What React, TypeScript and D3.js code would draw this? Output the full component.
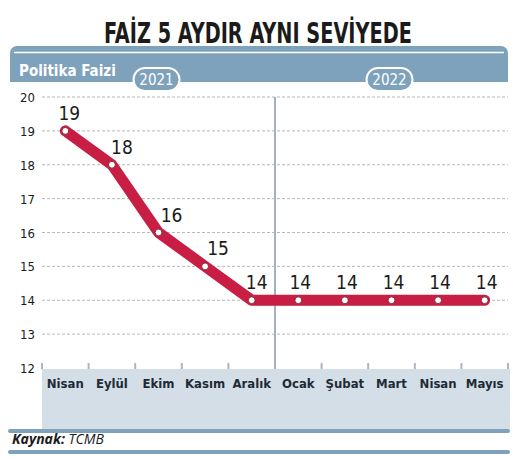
import React from 'react';
import * as d3 from 'd3';

const months = ['Nisan', 'Eylül', 'Ekim', 'Kasım', 'Aralık', 'Ocak', 'Şubat', 'Mart', 'Nisan', 'Mayıs'];
const rates = [19, 18, 16, 15, 14, 14, 14, 14, 14, 14];
const yTicks = [12, 13, 14, 15, 16, 17, 18, 19, 20];
const years = [
  { label: '2021', from: 0, to: 4 },
  { label: '2022', from: 5, to: 9 },
];

const W = 516;
const H = 459;
const cond = "'DejaVu Sans Condensed', 'Liberation Sans Narrow', 'Roboto Condensed', sans-serif";
const band = '#7fa2bc';
const ink = '#1b1b1b';

const App: React.FC = () => {
  const x = d3.scaleBand<string>()
    .domain(months.map((m, i) => `${i}`))
    .range([42, 508]);
  const y = d3.scaleLinear().domain([12, 20]).range([368, 97]);

  const cx = (i: number) => (x(`${i}`) ?? 0) + x.bandwidth() / 2;

  const line = d3.line<number>()
    .x((d, i) => cx(i))
    .y(d => y(d));

  // year separator sits between Aralık and Ocak
  const sepX = x('5') ?? 0;

  // label offsets: first points sit to the right of the marker
  const labelDx = [4, 10, 13, 13, 5, 2, 2, 2, 2, 2];

  return (
    <svg width={W} height={H} style={{ position: 'absolute', left: 0, top: 0, background: '#fff' }}>
      {/* title, squeezed to a condensed look */}
      <g transform="translate(258,43) scale(0.74,1)">
        <text x={0} y={0} textAnchor="middle" fontFamily={cond} fontWeight="bold" fontSize={29} fill={ink}>
          FAİZ 5 AYDIR AYNI SEVİYEDE
        </text>
      </g>

      {/* header band */}
      <rect x={10} y={46} width={498} height={36} rx={7} fill={band} />
      <line x1={14} x2={504} y1={52.5} y2={52.5} stroke="#fff" strokeWidth={1.5} />
      <rect x={10} y={60} width={498} height={22} fill={band} />
      <text x={19} y={76} fontFamily={cond} fontWeight="bold" fontSize={15} fill="#fff">Politika Faizi</text>

      {/* grid */}
      {yTicks.map(t => (
        <g key={t}>
          {t > 12 && (
            <line x1={42} x2={508} y1={y(t)} y2={y(t)} stroke="#9a9a9a" strokeWidth={0.7} strokeDasharray="3,2" />
          )}
          <text x={35} y={y(t) + 5} textAnchor="end" fontFamily={cond} fontSize={13} fill={ink}>{t}</text>
        </g>
      ))}

      {/* bottom category band */}
      <rect x={42} y={369} width={468} height={60} fill="#d3dee7" />
      {d3.range(0, months.length + 1).map(i => {
        const tx = i < months.length ? (x(`${i}`) ?? 0) : 508;
        if (i === 5) return null;
        return <rect key={i} x={tx - 1} y={363} width={2} height={6} fill="#a9b6c6" />;
      })}
      {months.map((m, i) => (
        <text key={i} x={cx(i)} y={388} textAnchor="middle" fontFamily={cond} fontWeight="bold"
          fontSize={13} fill="#1e2a36">{m}</text>
      ))}

      {/* year separator */}
      <line x1={sepX} x2={sepX} y1={97} y2={369} stroke="#a2b0c6" strokeWidth={2} />

      {/* year pills */}
      {years.map(yr => {
        const mid = (cx(yr.from) + cx(yr.to)) / 2;
        return (
          <g key={yr.label}>
            <rect x={mid - 23 - 2} y={68} width={46} height={23} rx={11.5} fill={band} stroke="#fff" strokeWidth={2} />
            <text x={mid - 2} y={85} textAnchor="middle" fontFamily={cond} fontSize={15} fill="#fff">{yr.label}</text>
          </g>
        );
      })}

      {/* series */}
      <path d={line(rates) ?? ''} fill="none" stroke="#c81e43" strokeWidth={11}
        strokeLinejoin="round" strokeLinecap="round" />
      {rates.map((r, i) => (
        <g key={i}>
          <circle cx={cx(i)} cy={y(r)} r={3.4} fill="#fff" stroke="#6a1020" strokeWidth={0.8} />
          <text x={cx(i) + labelDx[i]} y={y(r) - 11} textAnchor="middle" fontFamily={cond}
            fontSize={19} fill={ink}>{r}</text>
        </g>
      ))}

      {/* source */}
      <rect x={8} y={429} width={502} height={4} rx={2} fill={band} />
      <text x={12} y={444} fontFamily="'Open Sans', sans-serif" fontStyle="italic" fontSize={14} fill={ink}>
        <tspan fontWeight="bold">Kaynak:</tspan> TCMB
      </text>
      <rect x={8} y={450} width={502} height={4} rx={2} fill={band} />
    </svg>
  );
};

export default App;
